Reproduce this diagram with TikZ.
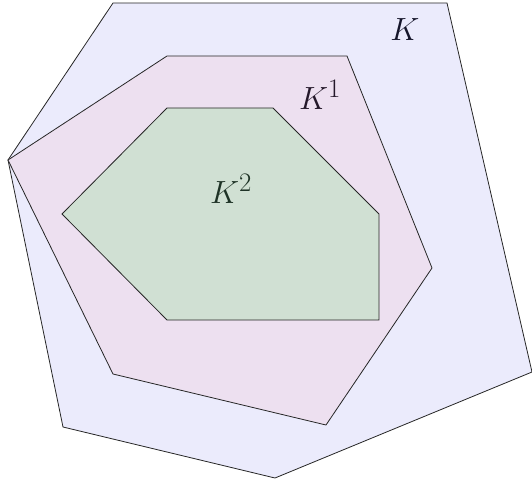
\documentclass[tikz,border=0pt]{standalone}
\usepackage{tikz}
\definecolor{kzero}{HTML}{EBEBFC}
\definecolor{kone}{HTML}{EDE0F0}
\definecolor{ktwo}{HTML}{D0E0D3}
\definecolor{tzero}{HTML}{15152A}
\definecolor{tone}{HTML}{24182A}
\definecolor{ttwo}{HTML}{1E3326}
\tikzset{
  region/.style={draw=black!85, line width=0.8pt, line join=miter},
  lbl/.style={font=\Huge, scale=1.29, inner sep=0pt}
}
\begin{document}
\begin{tikzpicture}[x=1pt,y=-1pt]
\useasboundingbox (0,0) rectangle (532,481);
\path[region, fill=kzero] (113,3) -- (447,3) -- (532,372) -- (275,478) -- (63,427) -- (8,160) -- cycle;
\path[region, fill=kone] (8,160) -- (167,56) -- (347,56) -- (432,268) -- (326,425) -- (113,374) -- cycle;
\path[region, fill=ktwo] (167,108) -- (273,108) -- (379,214) -- (379,320) -- (167,320) -- (62,214) -- cycle;
\node[lbl, text=tzero] (lk) at (405,30) {$K$};
\node[lbl, text=tone] (lk1) at (320,95) {$K^1$};
\node[lbl, text=ttwo] (lk2) at (231,189) {$K^2$};
\end{tikzpicture}
\end{document}
